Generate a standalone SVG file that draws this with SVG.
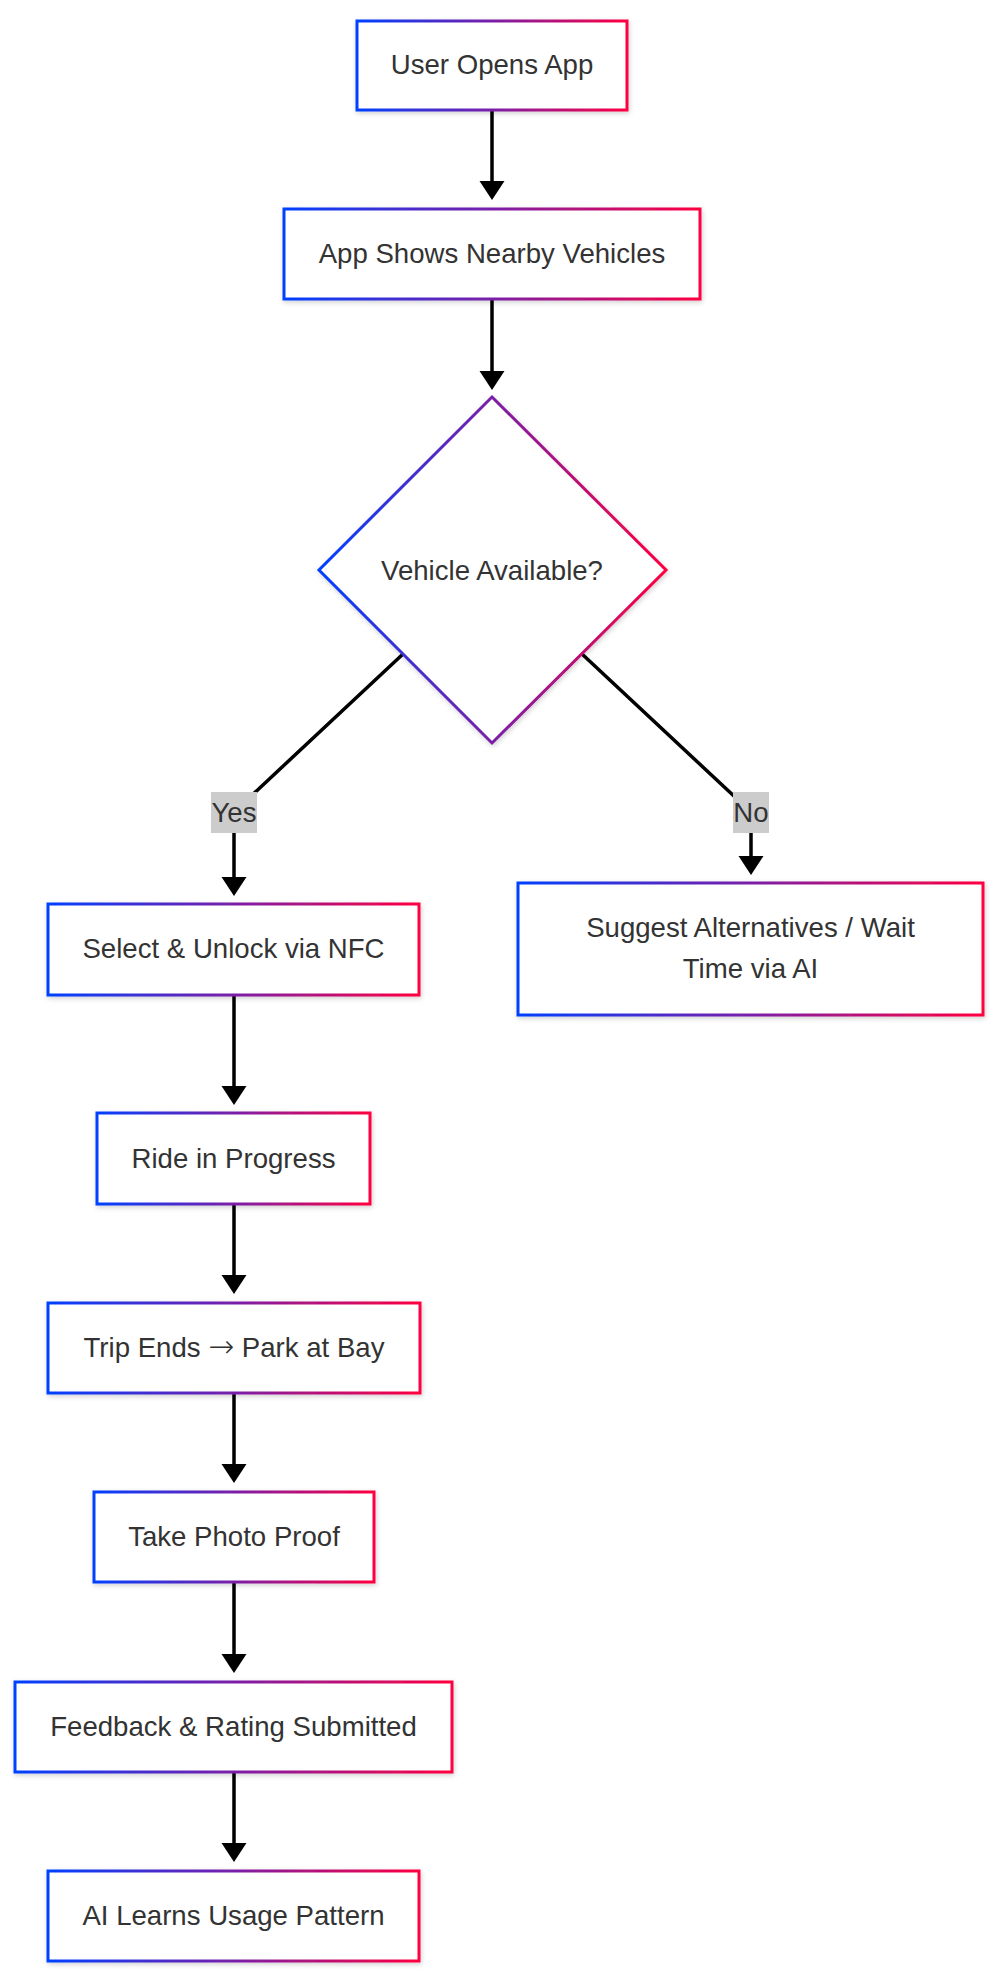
<svg xmlns="http://www.w3.org/2000/svg" width="999" height="1981" viewBox="0 0 999 1981">
<defs>
<linearGradient id="grad" x1="0" y1="0" x2="1" y2="0">
<stop offset="0" stop-color="#0040ff"/>
<stop offset="0.5" stop-color="#7a1fa8"/>
<stop offset="1" stop-color="#ff0040"/>
</linearGradient>
<filter id="sh" x="-10%" y="-20%" width="120%" height="140%">
<feDropShadow dx="1" dy="2" stdDeviation="2.5" flood-color="#000" flood-opacity="0.18"/>
</filter>
<marker id="arr" markerUnits="userSpaceOnUse" markerWidth="20" markerHeight="26" refX="0" refY="12.5" orient="auto" viewBox="0 0 20 26">
<path d="M0,0 L19,12.5 L0,25 z" fill="#000"/>
</marker>
<style>
.node{fill:#fff;stroke:url(#grad);stroke-width:3;filter:url(#sh)}
.lbl{font-family:"Liberation Sans",Arial,Helvetica,sans-serif;font-size:27.6px;fill:#333;text-anchor:middle}
.sym{font-family:"DejaVu Sans",sans-serif;font-size:31px;font-weight:200}
.edge{fill:none;stroke:#000;stroke-width:3.5}
.elbg{fill:#cccccc}
</style>
</defs>
<rect width="999" height="1981" fill="#fff"/>
<g id="connectors">
<path class="edge" d="M492,110 L492,181" marker-end="url(#arr)"/>
<path class="edge" d="M492,299 L492,371" marker-end="url(#arr)"/>
<path class="edge" d="M403,654 L234,812 L234,877" marker-end="url(#arr)"/>
<path class="edge" d="M582,654 L751,812 L751,856" marker-end="url(#arr)"/>
<path class="edge" d="M234,995 L234,1086" marker-end="url(#arr)"/>
<path class="edge" d="M234,1204 L234,1275" marker-end="url(#arr)"/>
<path class="edge" d="M234,1393 L234,1464" marker-end="url(#arr)"/>
<path class="edge" d="M234,1582 L234,1654" marker-end="url(#arr)"/>
<path class="edge" d="M234,1772 L234,1843" marker-end="url(#arr)"/>
<g id="label-yes">
<rect class="elbg" x="211" y="792" width="46" height="41"/>
<text class="lbl" x="234" y="822">Yes</text>
</g>
<g id="label-no">
<rect class="elbg" x="733" y="792" width="36" height="41"/>
<text class="lbl" x="751" y="822">No</text>
</g>
</g>
<g id="n-open">
<rect class="node" x="357" y="21" width="270" height="89"/>
<text class="lbl" x="492" y="74">User Opens App</text>
</g>
<g id="n-shows">
<rect class="node" x="284" y="209" width="416" height="90"/>
<text class="lbl" x="492" y="263">App Shows Nearby Vehicles</text>
</g>
<g id="n-avail">
<polygon class="node" points="492,397 666,570 492,743 319,570"/>
<text class="lbl" x="492" y="580">Vehicle Available?</text>
</g>
<g id="n-select">
<rect class="node" x="48" y="904" width="371" height="91"/>
<text class="lbl" x="233.5" y="958">Select &amp; Unlock via NFC</text>
</g>
<g id="n-suggest">
<rect class="node" x="518" y="883" width="465" height="132"/>
<text class="lbl" x="750.5" y="937">Suggest Alternatives / Wait</text>
<text class="lbl" x="750.5" y="978">Time via AI</text>
</g>
<g id="n-ride">
<rect class="node" x="97" y="1113" width="273" height="91"/>
<text class="lbl" x="233.5" y="1168">Ride in Progress</text>
</g>
<g id="n-trip">
<rect class="node" x="48" y="1303" width="372" height="90"/>
<text class="lbl" x="234" y="1357">Trip Ends <tspan class="sym">→</tspan> Park at Bay</text>
</g>
<g id="n-photo">
<rect class="node" x="94" y="1492" width="280" height="90"/>
<text class="lbl" x="234" y="1546">Take Photo Proof</text>
</g>
<g id="n-feedback">
<rect class="node" x="15" y="1682" width="437" height="90"/>
<text class="lbl" x="233.5" y="1736">Feedback &amp; Rating Submitted</text>
</g>
<g id="n-ai">
<rect class="node" x="48" y="1871" width="371" height="90"/>
<text class="lbl" x="233.5" y="1925">AI Learns Usage Pattern</text>
</g>
</svg>
